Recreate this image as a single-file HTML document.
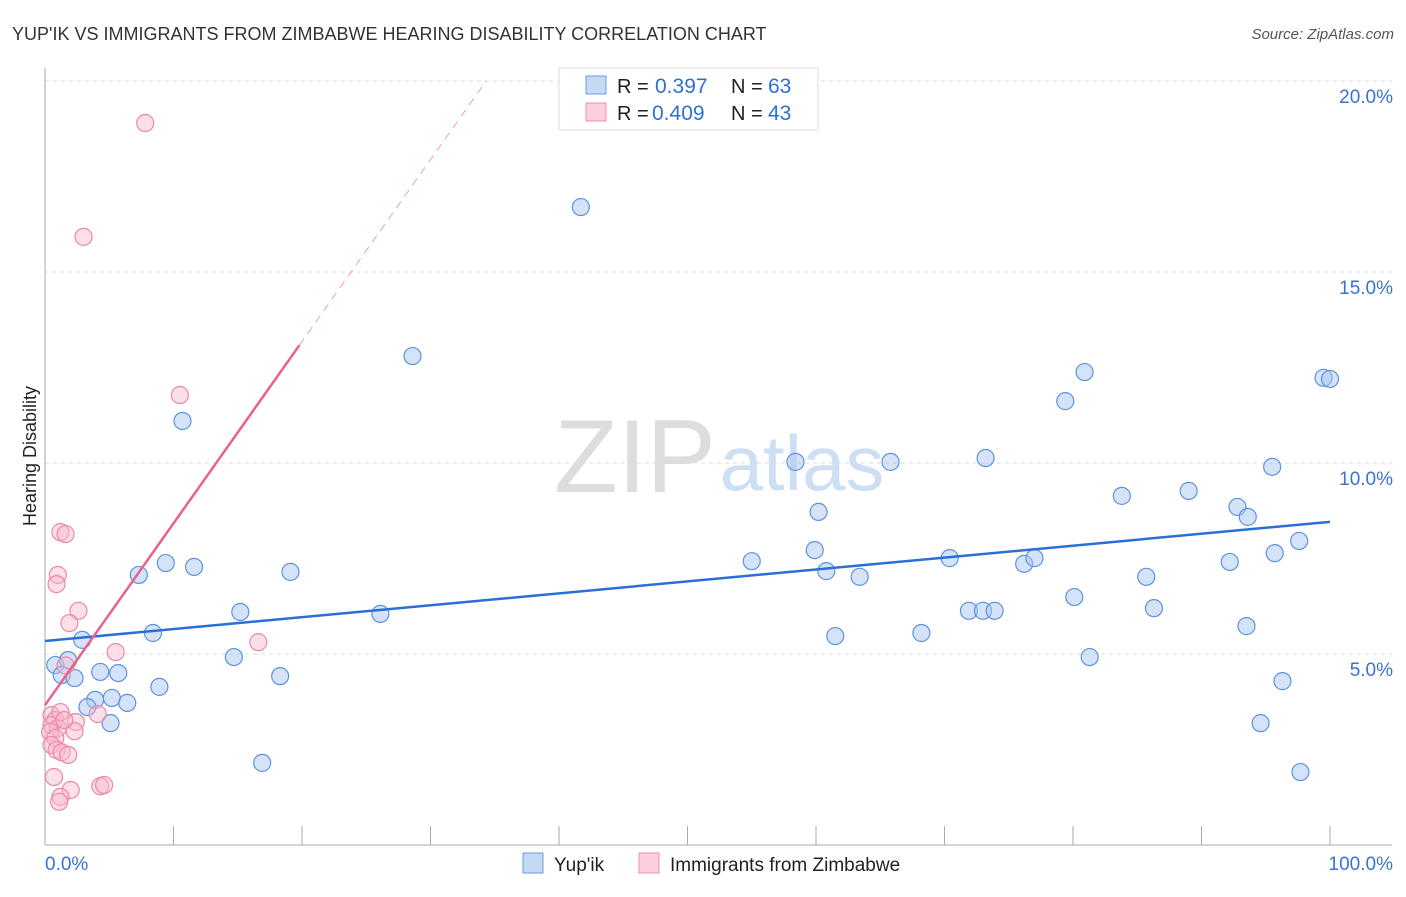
<!DOCTYPE html>
<html><head><meta charset="utf-8"><style>
body{margin:0;background:#fff;font-family:"Liberation Sans",sans-serif;}
svg text{font-family:"Liberation Sans",sans-serif;}
</style></head><body>
<svg id="c" width="1406" height="892">
<text x="12" y="40" font-size="18" fill="#333">YUP'IK VS IMMIGRANTS FROM ZIMBABWE HEARING DISABILITY CORRELATION CHART</text>
<text x="1394" y="39" font-size="15" fill="#555" font-style="italic" text-anchor="end">Source: ZipAtlas.com</text>
<text x="36" y="456" font-size="18" fill="#222" transform="rotate(-90 36 456)" text-anchor="middle">Hearing Disability</text>
<g><text x="635" y="492" font-size="104" fill="#ddd" font-family="Liberation Serif" text-anchor="middle">ZIP</text><text x="802" y="490" font-size="78" fill="#cfdff3" text-anchor="middle">atlas</text></g>
<g id="grid"></g><g id="marks"></g>
<g>
<rect x="559" y="68" width="259" height="62" fill="#fff" stroke="#ddd"/>
<rect x="586" y="76" width="20" height="18" fill="#c5d9f5" stroke="#6a9be0"/>
<rect x="586" y="103" width="20" height="18" fill="#fbd0dc" stroke="#ee90aa"/>
<text x="617" y="93" font-size="20" fill="#222">R =</text><text x="655" y="93" font-size="21" fill="#2f6fd6">0.397</text>
<text x="731" y="93" font-size="20" fill="#222">N =</text><text x="768" y="93" font-size="21" fill="#2f6fd6">63</text>
<text x="617" y="120" font-size="20" fill="#222">R =</text><text x="652" y="120" font-size="21" fill="#2f6fd6">0.409</text>
<text x="731" y="120" font-size="20" fill="#222">N =</text><text x="768" y="120" font-size="21" fill="#2f6fd6">43</text>
</g>
<g>
<rect x="523" y="853" width="20" height="20" fill="#c5d9f5" stroke="#6a9be0"/>
<text x="554" y="871" font-size="19" fill="#222">Yup'ik</text>
<rect x="639" y="853" width="20" height="20" fill="#fbd0dc" stroke="#ee90aa"/>
<text x="670" y="871" font-size="19" fill="#222">Immigrants from Zimbabwe</text>
</g>
</svg>
<script>
const yTicks=[5,10,15,20];
const xTickLabels=["0.0%","100.0%"];
const blueX=[41.7,28.6,10.7,7.3,9.4,11.6,19.1,15.2,26.1,8.4,2.9,0.8,1.8,1.3,2.3,4.3,5.7,14.7,8.9,18.3,3.9,5.2,6.4,3.3,5.1,16.9,58.4,65.8,73.2,60.2,59.9,55.0,60.8,63.4,70.4,61.5,68.2,71.9,73.0,73.9,76.2,77.0,79.4,80.9,80.1,81.3,83.8,85.7,86.3,89.0,92.2,92.8,93.6,93.5,95.5,95.7,96.3,94.6,97.6,97.7,99.5,100];
const blueY=[16.7,12.8,11.1,7.07,7.38,7.28,7.15,6.1,6.05,5.55,5.37,4.71,4.84,4.45,4.37,4.53,4.5,4.92,4.14,4.42,3.8,3.85,3.72,3.61,3.19,2.15,10.03,10.03,10.13,8.72,7.72,7.43,7.17,7.02,7.51,5.47,5.55,6.13,6.13,6.13,7.36,7.51,11.62,12.38,6.49,4.92,9.14,7.02,6.2,9.27,7.41,8.85,8.59,5.73,9.9,7.64,4.29,3.19,7.96,1.91,12.23,12.2];
const pinkX=[7.8,3.0,10.5,1.2,1.6,1.0,0.9,2.6,1.9,16.6,5.5,1.6,4.1,2.4,2.3,0.5,0.8,0.5,1.0,0.4,0.8,1.2,1.5,0.5,0.9,1.3,1.8,0.7,4.3,4.6,2.0,1.2,1.1];
const pinkY=[18.9,15.92,11.78,8.19,8.14,7.07,6.83,6.13,5.81,5.31,5.05,4.7,3.43,3.22,2.98,3.4,3.27,3.14,3.06,2.96,2.8,3.48,3.27,2.62,2.49,2.43,2.36,1.78,1.54,1.57,1.44,1.26,1.13];
const blueTrend=[5.34,8.46];
const pinkTrend=[3.66,0.476];
const X0=45,X1=1330,Y0=845,PY=38.2;
const sx=v=>X0+(X1-X0)*v/100, sy=v=>Y0-v*PY;
const NS="http://www.w3.org/2000/svg";
function mk(p,t,a){const e=document.createElementNS(NS,t);for(const k in a)e.setAttribute(k,a[k]);p.appendChild(e);return e;}
const g=document.getElementById('grid'),m=document.getElementById('marks');
yTicks.forEach(t=>{
 const l=mk(g,'line',{x1:X0,x2:1392,y1:sy(t),y2:sy(t),stroke:'#ddd','stroke-dasharray':'4,4'});
 
 
 const tx=mk(g,'text',{x:1393,y:sy(t)+22,'font-size':19,fill:'#3a72d4','text-anchor':'end'});tx.textContent=t.toFixed(1)+'%';
 
 
});
mk(g,'line',{x1:X0,x2:X0,y1:68,y2:Y0,stroke:'#aaa'});
mk(g,'line',{x1:X0,x2:1392,y1:Y0,y2:Y0,stroke:'#aaa'});
for(let i=1;i<=10;i++){mk(g,'line',{x1:sx(i*10),x2:sx(i*10),y1:826,y2:Y0,stroke:'#aaa'});}
[[0,xTickLabels[0],'start'],[100,xTickLabels[1],'end']].forEach(([v,s,a])=>{
 const tx=mk(g,'text',{x:v?1393:45,y:870,'font-size':19,fill:'#3a72d4','text-anchor':a});tx.textContent=s;
 
 
});
blueX.forEach((x,i)=>{const c=mk(m,'circle',{cx:sx(x),cy:sy(blueY[i]),r:8.5,fill:'rgba(170,200,240,0.5)',stroke:'#5d93de','stroke-width':1.2});
 
 });
pinkX.forEach((x,i)=>{const c=mk(m,'circle',{cx:sx(x),cy:sy(pinkY[i]),r:8.5,fill:'rgba(248,185,205,0.45)',stroke:'#ec88a6','stroke-width':1.2});
 
 });
const bl=mk(m,'line',{x1:sx(0),y1:sy(blueTrend[0]),x2:sx(100),y2:sy(blueTrend[1]),stroke:'#2a6fd6','stroke-width':2.5});


const pe=19.8,pd=(20-pinkTrend[0])/pinkTrend[1];
const pl=mk(m,'line',{x1:sx(0),y1:sy(pinkTrend[0]),x2:sx(pe),y2:sy(pinkTrend[0]+pinkTrend[1]*pe),stroke:'#e8628a','stroke-width':2.5});


const pdl=mk(m,'line',{x1:sx(pe),y1:sy(pinkTrend[0]+pinkTrend[1]*pe),x2:sx(pd),y2:sy(20),stroke:'#eaa0b5','stroke-width':1,'stroke-dasharray':'8,6'});


</script>
</body></html>
